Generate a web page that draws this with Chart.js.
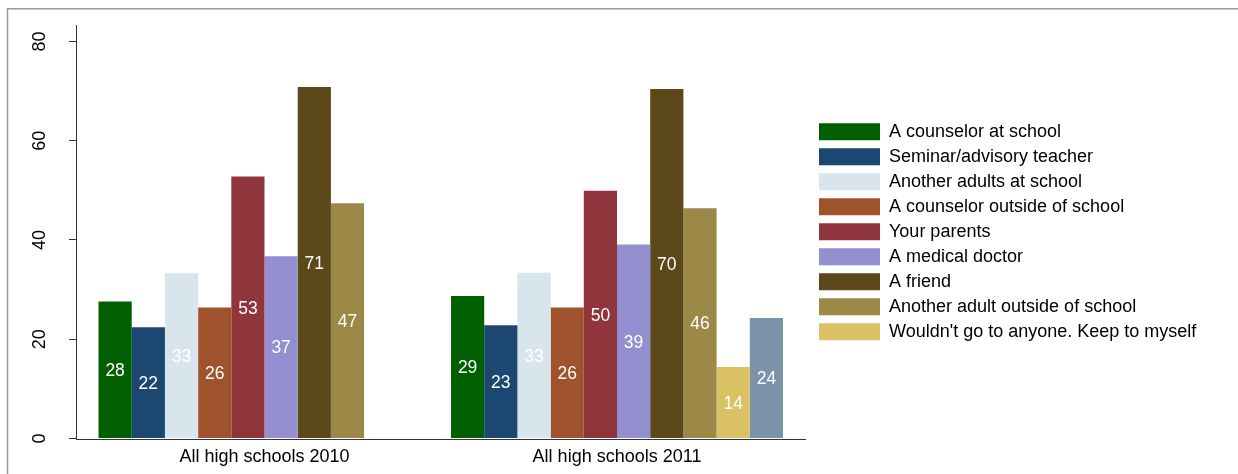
<!DOCTYPE html>
<html>
<head>
<meta charset="utf-8">
<script src="https://cdn.jsdelivr.net/npm/chart.js@4/dist/chart.umd.min.js"></script>
<style>
  html, body { margin: 0; padding: 0; background: #fff; }
  #wrap { position: relative; width: 1238px; height: 474px; }
</style>
</head>
<body>
<div id="wrap"><canvas id="c" width="1238" height="474"></canvas></div>
<script>
// ---- data ----
const categories = ['All high schools 2010', 'All high schools 2011'];
const seriesNames = [
  'A counselor at school',
  'Seminar/advisory teacher',
  'Another adults at school',
  'A counselor outside of school',
  'Your parents',
  'A medical doctor',
  'A friend',
  'Another adult outside of school',
  "Wouldn't go to anyone. Keep to myself",
  'Other'
];
const counselorAtSchool   = [27.6, 28.7];
const advisoryTeacher     = [22.4, 22.8];
const otherAdultsSchool   = [33.3, 33.4];
const counselorOutside    = [26.4, 26.4];
const yourParents         = [52.8, 49.9];
const medicalDoctor       = [36.7, 39.1];
const aFriend             = [70.8, 70.4];
const otherAdultOutside   = [47.4, 46.4];
const keepToMyself        = [null, 14.4];
const otherSource         = [null, 24.3];
const yTicks = [0, 20, 40, 60, 80];
const legendCount = 9;

// ---- style ----
const colors = ['#005f00', '#1c4770', '#d8e5ec', '#a0522d', '#90353b',
                '#948fd0', '#5c4818', '#9c8847', '#d9c164', '#7b92a9'];
const FONT = "'Liberation Sans', Arial, Helvetica, sans-serif";
Chart.defaults.font.family = FONT;
Chart.defaults.color = '#000';

const allSeries = [counselorAtSchool, advisoryTeacher, otherAdultsSchool, counselorOutside,
  yourParents, medicalDoctor, aFriend, otherAdultOutside, keepToMyself, otherSource];

const datasets = allSeries.map((vals, k) => ({
  label: seriesNames[k],
  data: vals.map((v, i) => ({ x: i, y: v })),
  backgroundColor: colors[k],
  borderWidth: 0,
  categoryPercentage: 0.9418,
  barPercentage: 1.0
}));

const X_MIN = -0.5348, X_MAX = 1.5532, X_AXIS_END = 1.536;

// legend sizing: legend box starts right where the plot area ends (x = 812)
const LEGEND_FONT = 18, LEGEND_BOX_W = 61, LEGEND_PAD = 7, PLOT_RIGHT = 812;
const mctx = document.createElement('canvas').getContext('2d');
mctx.font = LEGEND_FONT + 'px ' + FONT;
const longestText = Math.max(...seriesNames.slice(0, legendCount).map(s => mctx.measureText(s).width));
const legendW = Math.ceil(LEGEND_PAD + LEGEND_BOX_W + LEGEND_FONT / 2 + longestText + 3);
const padRight = 1238 - PLOT_RIGHT - legendW;

const framePlugin = {
  id: 'frame',
  beforeDraw(chart) {
    const ctx = chart.ctx;
    ctx.save();
    ctx.fillStyle = '#fff';
    ctx.fillRect(0, 0, chart.width, chart.height);
    ctx.strokeStyle = '#9a9a9a';
    ctx.lineWidth = 1.5;
    ctx.beginPath();
    ctx.moveTo(7.5, chart.height);
    ctx.lineTo(7.5, 8.75);
    ctx.lineTo(chart.width, 8.75);
    ctx.stroke();
    ctx.restore();
  },
  afterDraw(chart) {
    const ctx = chart.ctx;
    const xs = chart.scales.x;
    const yb = Math.round(chart.chartArea.bottom) + 0.5;
    ctx.save();
    ctx.strokeStyle = '#333';
    ctx.lineWidth = 1;
    ctx.beginPath();
    ctx.moveTo(chart.chartArea.left, yb);
    ctx.lineTo(xs.getPixelForValue(X_AXIS_END), yb);
    ctx.stroke();
    ctx.restore();
  }
};

const barLabelPlugin = {
  id: 'barLabels',
  afterDatasetsDraw(chart) {
    const ctx = chart.ctx;
    ctx.save();
    ctx.fillStyle = '#fff';
    ctx.font = '17.5px ' + FONT;
    ctx.textAlign = 'center';
    ctx.textBaseline = 'middle';
    chart.data.datasets.forEach((ds, di) => {
      const meta = chart.getDatasetMeta(di);
      meta.data.forEach((el, i) => {
        const v = ds.data[i].y;
        if (v === null || v === undefined) return;
        ctx.fillText(String(Math.round(v)), el.x, (el.y + el.base) / 2 + 1.5);
      });
    });
    ctx.restore();
  }
};

new Chart(document.getElementById('c'), {
  type: 'bar',
  data: { datasets },
  options: {
    responsive: false,
    animation: false,
    layout: { padding: { left: 0, right: padRight, top: 25, bottom: 0 } },
    scales: {
      x: {
        type: 'linear',
        min: X_MIN,
        max: X_MAX,
        offset: false,
        grid: { display: false, drawTicks: false },
        border: { display: false },
        afterBuildTicks(scale) { scale.ticks = categories.map((c, i) => ({ value: i })); },
        afterFit(scale) {
          scale.height = 35.5;
          scale.paddingLeft = 0; scale.paddingRight = 0;
          scale.paddingTop = 0; scale.paddingBottom = 0;
        },
        ticks: {
          font: { size: 18 },
          color: '#000',
          padding: 8,
          maxRotation: 0,
          minRotation: 0,
          autoSkip: false,
          callback: (v) => categories[v]
        }
      },
      y: {
        min: 0,
        max: 83.3,
        grid: { display: true, drawOnChartArea: false, drawTicks: true, tickLength: 7, color: '#333' },
        border: { display: true, color: '#333', width: 1 },
        afterBuildTicks(scale) { scale.ticks = yTicks.map(v => ({ value: v })); },
        afterFit(scale) {
          scale.width = 76;
          scale.paddingTop = 0; scale.paddingBottom = 0;
          scale.paddingLeft = 0; scale.paddingRight = 0;
        },
        ticks: {
          font: { size: 18 },
          color: '#000',
          minRotation: 90,
          maxRotation: 90,
          crossAlign: 'center',
          padding: 18.5
        }
      }
    },
    plugins: {
      legend: {
        position: 'right',
        align: 'center',
        fullSize: false,
        maxWidth: legendW,
        labels: {
          boxWidth: LEGEND_BOX_W,
          boxHeight: 17,
          padding: LEGEND_PAD,
          font: { size: LEGEND_FONT },
          color: '#000',
          filter: (item) => item.datasetIndex < legendCount
        }
      },
      tooltip: { enabled: false },
      title: { display: false }
    }
  },
  plugins: [framePlugin, barLabelPlugin]
});
</script>
</body>
</html>
